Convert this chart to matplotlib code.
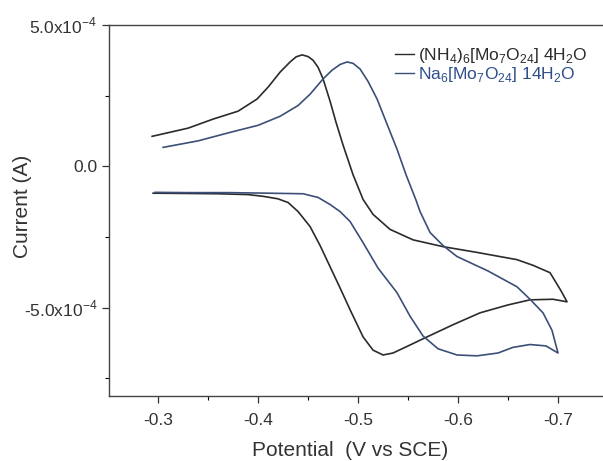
"""
Cyclic voltammograms of two heptamolybdate salts
"""

import matplotlib.pyplot as plt
from matplotlib.ticker import MultipleLocator, FixedLocator

plt.rcParams['font.family'] = ['Liberation Sans', 'DejaVu Sans']
plt.rcParams['mathtext.fontset'] = 'custom'
plt.rcParams['mathtext.rm'] = 'Liberation Sans'

# (NH4)6[Mo7O24] 4H2O - forward (lower) branch, then return (upper) branch
nh4_potential = [-0.295, -0.33, -0.36, -0.39, -0.405, -0.42, -0.43, -0.44, -0.452, -0.462,
                 -0.472, -0.482, -0.492, -0.505, -0.515, -0.525, -0.535, -0.55, -0.569, -0.595,
                 -0.622, -0.65, -0.672, -0.695, -0.709,
                 -0.703, -0.692, -0.675, -0.659, -0.62, -0.585, -0.555, -0.532, -0.515, -0.505,
                 -0.495, -0.485, -0.478, -0.472, -0.465, -0.46, -0.455, -0.45, -0.444, -0.438,
                 -0.432, -0.422, -0.41, -0.399, -0.38, -0.355, -0.33, -0.294]
nh4_current = [-0.95e-4, -0.96e-4, -0.97e-4, -1.0e-4, -1.06e-4, -1.15e-4, -1.28e-4, -1.6e-4,
               -2.13e-4, -2.8e-4, -3.55e-4, -4.3e-4, -5.07e-4, -6.03e-4, -6.5e-4, -6.67e-4,
               -6.6e-4, -6.35e-4, -6.03e-4, -5.6e-4, -5.18e-4, -4.9e-4, -4.72e-4, -4.7e-4, -4.79e-4,
               -4.4e-4, -3.76e-4, -3.5e-4, -3.3e-4, -3.05e-4, -2.84e-4, -2.6e-4, -2.23e-4, -1.7e-4,
               -1.17e-4, -0.3e-4, 0.75e-4, 1.55e-4, 2.3e-4, 3.09e-4, 3.5e-4, 3.75e-4, 3.88e-4,
               3.94e-4, 3.87e-4, 3.69e-4, 3.33e-4, 2.8e-4, 2.38e-4, 1.95e-4, 1.67e-4, 1.35e-4,
               1.06e-4]

# Na6[Mo7O24] 14H2O
na_potential = [-0.297, -0.33, -0.37, -0.41, -0.445, -0.46, -0.472, -0.482, -0.492, -0.505,
                -0.52, -0.539, -0.552, -0.565, -0.58, -0.599, -0.619, -0.64, -0.655, -0.672,
                -0.688, -0.70,
                -0.694, -0.685, -0.672, -0.659, -0.63, -0.599, -0.585, -0.572, -0.562, -0.558,
                -0.548, -0.539, -0.53, -0.519, -0.51, -0.502, -0.495, -0.489, -0.482, -0.474,
                -0.465, -0.452, -0.44, -0.422, -0.40, -0.372, -0.34, -0.305]
na_current = [-0.92e-4, -0.93e-4, -0.93e-4, -0.95e-4, -0.97e-4, -1.1e-4, -1.35e-4, -1.6e-4,
              -1.95e-4, -2.7e-4, -3.6e-4, -4.47e-4, -5.3e-4, -6.0e-4, -6.45e-4, -6.67e-4,
              -6.7e-4, -6.6e-4, -6.4e-4, -6.3e-4, -6.35e-4, -6.6e-4,
              -5.8e-4, -5.18e-4, -4.7e-4, -4.26e-4, -3.7e-4, -3.19e-4, -2.8e-4, -2.34e-4,
              -1.6e-4, -1.2e-4, -0.3e-4, 0.6e-4, 1.4e-4, 2.38e-4, 3.0e-4, 3.44e-4, 3.64e-4,
              3.69e-4, 3.6e-4, 3.4e-4, 3.09e-4, 2.55e-4, 2.15e-4, 1.77e-4, 1.45e-4, 1.2e-4,
              0.9e-4, 0.67e-4]

x_ticks = [-0.3, -0.4, -0.5, -0.6, -0.7]
x_tick_labels = ['-0.3', '-0.4', '-0.5', '-0.6', '-0.7']
y_ticks = [5e-4, 0.0, -5e-4]
y_tick_labels = ['5.0x10$^{-4}$', '0.0', '-5.0x10$^{-4}$']

nh4_label = '(NH$_4$)$_6$[Mo$_7$O$_{24}$] 4H$_2$O'
na_label = 'Na$_6$[Mo$_7$O$_{24}$] 14H$_2$O'

fig = plt.figure(figsize=(6.03, 4.61), dpi=100)
ax = fig.add_axes([0.181, 0.141, 0.819, 0.805])

ax.plot(nh4_potential, nh4_current, color='#2b2b2b', lw=1.2, label=nh4_label)
ax.plot(na_potential, na_current, color='#3c4f78', lw=1.2, label=na_label)

ax.set_xlim(-0.251, -0.745)
ax.set_ylim(-8.12e-4, 5e-4)

ax.set_xticks(x_ticks)
ax.set_xticklabels(x_tick_labels)
ax.xaxis.set_minor_locator(FixedLocator([-0.35, -0.45, -0.55, -0.65]))
ax.set_yticks(y_ticks)
ax.set_yticklabels(y_tick_labels)
ax.yaxis.set_minor_locator(MultipleLocator(2.5e-4))

ax.tick_params(axis='both', which='major', direction='out', length=5, width=0.9,
               labelsize=12.5, colors='#333333')
ax.tick_params(axis='x', which='major', pad=7)
ax.tick_params(axis='both', which='minor', direction='out', length=3, width=0.8)

for side in ['left', 'bottom', 'top']:
    ax.spines[side].set_color('#444444')
    ax.spines[side].set_linewidth(1.0)
ax.spines['right'].set_visible(False)

ax.set_xlabel('Potential  (V vs SCE)', fontsize=15, color='#333333')
ax.set_ylabel('Current (A)', fontsize=15, color='#333333')
ax.xaxis.set_label_coords(0.488, -0.121)
ax.yaxis.set_label_coords(-0.156, 0.512)

leg = ax.legend(loc='upper left', bbox_to_anchor=(0.555, 0.975), frameon=False, fontsize=12.5,
                handlelength=1.1, handletextpad=0.2, labelspacing=0.0, borderpad=0.2)
for line in leg.get_lines():
    line.set_linewidth(1.0)
leg.get_texts()[0].set_color('#2b2b2b')
leg.get_texts()[1].set_color('#2f4f8a')

fig.savefig('out.png', dpi=100)
